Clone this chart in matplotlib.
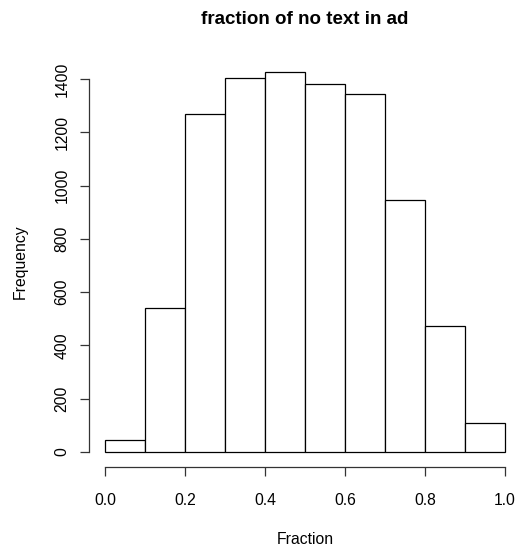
import matplotlib
matplotlib.use("Agg")
import matplotlib.pyplot as plt

plt.rcParams['font.family'] = ['Liberation Sans', 'DejaVu Sans']

bin_edges = [0.0, 0.1, 0.2, 0.3, 0.4, 0.5, 0.6, 0.7, 0.8, 0.9, 1.0]
counts = [45, 540, 1267, 1404, 1425, 1380, 1344, 946, 472, 108]
x_ticks = [0.0, 0.2, 0.4, 0.6, 0.8, 1.0]
y_ticks = [0, 200, 400, 600, 800, 1000, 1200, 1400]
title = "fraction of no text in ad"
xlabel = "Fraction"
ylabel = "Frequency"

W, H = 519, 548
fig = plt.figure(figsize=(W / 100, H / 100), dpi=100)
left, right, top, bottom = 89, 521, 57.1, 467.2
ax = fig.add_axes([left / W, 1 - bottom / H, (right - left) / W, (bottom - top) / H])
ax.set_xlim(-0.04, 1.04)
ax.set_ylim(-57, 1482)

widths = [bin_edges[i + 1] - bin_edges[i] for i in range(len(counts))]
ax.bar(bin_edges[:-1], counts, width=widths, align='edge',
       facecolor='white', edgecolor='black', linewidth=0.9)

for s in ['top', 'right']:
    ax.spines[s].set_visible(False)
ax.spines['left'].set_bounds(0, 1400)
ax.spines['bottom'].set_bounds(0, 1.0)
for s in ['left', 'bottom']:
    ax.spines[s].set_linewidth(0.9)
    ax.spines[s].set_color('#333333')

ax.set_xticks(x_ticks)
ax.set_xticklabels([f"{v:.1f}" for v in x_ticks])
ax.set_yticks(y_ticks)
ax.set_yticklabels([str(v) for v in y_ticks], rotation=90, va='center')
ax.tick_params(axis='both', length=6.5, width=0.9, color='#333333',
               labelsize=11.3)
ax.tick_params(axis='x', pad=12)
ax.tick_params(axis='y', pad=7.5)

ax.set_title(title, fontsize=13.5, fontweight='bold', pad=24)
ax.set_xlabel(xlabel, fontsize=11.3, va='center')
ax.set_ylabel(ylabel, fontsize=11.3, va='center')
ax.xaxis.set_label_coords((305 - left) / (right - left), (bottom - 540) / (bottom - top))
ax.yaxis.set_label_coords((20 - left) / (right - left), 0.5)

fig.savefig("out.png", dpi=100)
